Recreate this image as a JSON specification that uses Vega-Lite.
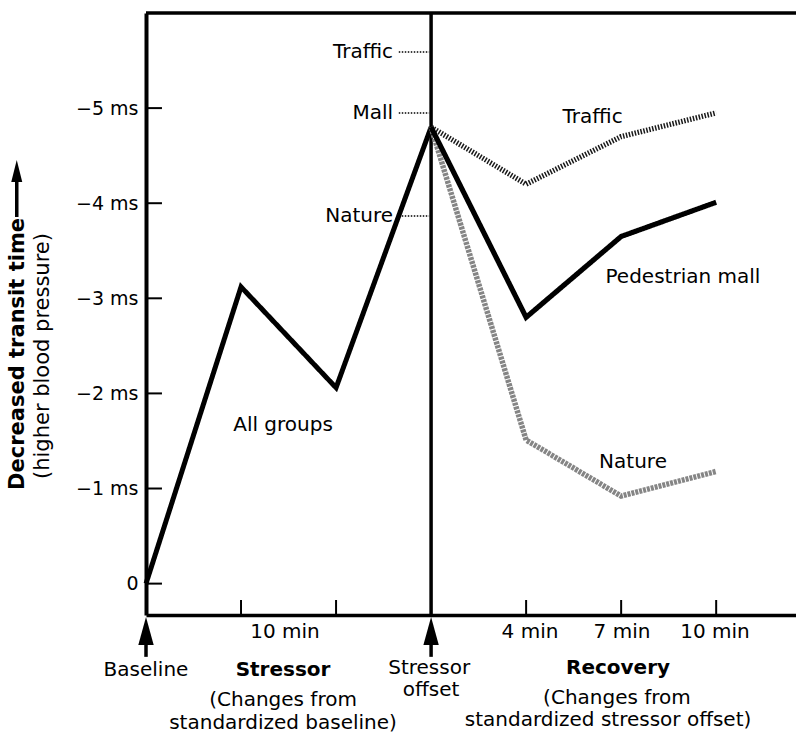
{
  "$schema": "https://vega.github.io/schema/vega-lite/v6.json",
  "width": 650,
  "height": 602,
  "autosize": {"type": "none"},
  "padding": {"left": 146, "top": 13, "right": 0, "bottom": 120},
  "background": "white",
  "config": {
    "view": {"stroke": null},
    "font": "DejaVu Sans",
    "text": {"font": "DejaVu Sans", "color": "black", "fontSize": 20}
  },
  "datasets": {
    "lines": [
      {"series": "All groups", "x": 0, "y": 0},
      {"series": "All groups", "x": 1, "y": -3.12},
      {"series": "All groups", "x": 2, "y": -2.06},
      {"series": "All groups", "x": 3, "y": -4.8},
      {"series": "Traffic", "x": 3, "y": -4.8},
      {"series": "Traffic", "x": 4, "y": -4.2},
      {"series": "Traffic", "x": 5, "y": -4.7},
      {"series": "Traffic", "x": 6, "y": -4.95},
      {"series": "Nature", "x": 3, "y": -4.8},
      {"series": "Nature", "x": 4, "y": -1.51},
      {"series": "Nature", "x": 5, "y": -0.92},
      {"series": "Nature", "x": 6, "y": -1.18},
      {"series": "Pedestrian mall", "x": 3, "y": -4.8},
      {"series": "Pedestrian mall", "x": 4, "y": -2.8},
      {"series": "Pedestrian mall", "x": 5, "y": -3.65},
      {"series": "Pedestrian mall", "x": 6, "y": -4.01}
    ],
    "frame": [
      {"x": 0, "x2": 6.84, "y": -6, "y2": -6},
      {"x": 3, "x2": 3, "y": -6, "y2": 0.33},
      {"x": 0, "x2": 0, "y": 0.5, "y2": 0.77},
      {"x": 3, "x2": 3, "y": 0.5, "y2": 0.77},
      {"x": -1.36, "x2": -1.36, "y": -3.855, "y2": -4.25}
    ],
    "ticks": [
      {"x": 1, "x2": 1, "y": 0.33, "y2": 0.172},
      {"x": 2, "x2": 2, "y": 0.33, "y2": 0.172},
      {"x": 4, "x2": 4, "y": 0.33, "y2": 0.172},
      {"x": 5, "x2": 5, "y": 0.33, "y2": 0.172},
      {"x": 6, "x2": 6, "y": 0.33, "y2": 0.172},
      {"x": 0, "x2": 0.168, "y": 0, "y2": 0},
      {"x": 0, "x2": 0.168, "y": -1, "y2": -1},
      {"x": 0, "x2": 0.168, "y": -2, "y2": -2},
      {"x": 0, "x2": 0.168, "y": -3, "y2": -3},
      {"x": 0, "x2": 0.168, "y": -4, "y2": -4},
      {"x": 0, "x2": 0.168, "y": -5, "y2": -5}
    ],
    "leaders": [
      {"x": 2.66, "x2": 2.98, "y": -5.59, "y2": -5.59},
      {"x": 2.66, "x2": 2.98, "y": -4.948, "y2": -4.948},
      {"x": 2.66, "x2": 2.98, "y": -3.865, "y2": -3.865}
    ],
    "arrows": [
      {"x": 0, "y": 0.499},
      {"x": 3, "y": 0.499}
    ],
    "titleArrow": [
      {"x": -1.36, "y": -4.339}
    ],
    "plotLabels": [
      {"label": "Traffic", "x": 4.7, "y": -4.906},
      {"label": "Pedestrian mall", "x": 5.65, "y": -3.224},
      {"label": "Nature", "x": 5.125, "y": -1.279},
      {"label": "All groups", "x": 1.442, "y": -1.668}
    ],
    "leaderLabels": [
      {"label": "Traffic", "x": 2.6, "y": -5.59},
      {"label": "Mall", "x": 2.6, "y": -4.948},
      {"label": "Nature", "x": 2.6, "y": -3.865}
    ],
    "belowLabels": [
      {"label": "10 min", "x": 1.463, "y": 0.509},
      {"label": "4 min", "x": 4.041, "y": 0.509},
      {"label": "7 min", "x": 5.009, "y": 0.509},
      {"label": "10 min", "x": 5.988, "y": 0.509},
      {"label": "Baseline", "x": 0, "y": 0.909},
      {"label": "(Changes from", "x": 1.442, "y": 1.224},
      {"label": "standardized baseline)", "x": 1.442, "y": 1.466},
      {"label": "Stressor", "x": 2.98, "y": 0.888},
      {"label": "offset", "x": 3.0, "y": 1.119},
      {"label": "(Changes from", "x": 4.956, "y": 1.203},
      {"label": "standardized stressor offset)", "x": 4.862, "y": 1.434}
    ],
    "boldLabels": [
      {"label": "Stressor", "x": 1.442, "y": 0.909},
      {"label": "Recovery", "x": 4.967, "y": 0.888}
    ],
    "yTitle": [
      {"label": "Decreased transit time", "x": -1.35, "y": -2.415}
    ],
    "ySubtitle": [
      {"label": "(higher blood pressure)", "x": -1.084, "y": -2.393}
    ]
  },
  "encoding": {
    "x": {
      "field": "x",
      "type": "quantitative",
      "scale": {"domain": [0, 6.84], "nice": false, "zero": false},
      "axis": {"title": null, "labels": false, "ticks": false, "grid": false, "domainColor": "black", "domainWidth": 3.5}
    },
    "y": {
      "field": "y",
      "type": "quantitative",
      "scale": {"domain": [-6, 0.33], "nice": false, "zero": false, "reverse": true},
      "axis": {
        "title": null,
        "values": [0, -1, -2, -3, -4, -5],
        "ticks": false,
        "grid": false,
        "domainColor": "black",
        "domainWidth": 4,
        "labelPadding": 8,
        "labelFont": "DejaVu Sans",
        "labelFontSize": 19,
        "labelColor": "black",
        "labelExpr": "datum.value === 0 ? '0' : '\u2212' + format(-datum.value, 'd') + ' ms'"
      }
    }
  },
  "layer": [
    {
      "data": {"name": "frame"},
      "mark": {"type": "rule", "color": "black", "strokeWidth": 3.5},
      "encoding": {"x2": {"field": "x2"}, "y2": {"field": "y2"}}
    },
    {
      "data": {"name": "ticks"},
      "mark": {"type": "rule", "color": "black", "strokeWidth": 2},
      "encoding": {"x2": {"field": "x2"}, "y2": {"field": "y2"}}
    },
    {
      "data": {"name": "leaders"},
      "mark": {"type": "rule", "color": "black", "strokeWidth": 1.5, "strokeDash": [1.5, 1.5]},
      "encoding": {"x2": {"field": "x2"}, "y2": {"field": "y2"}}
    },
    {
      "data": {"name": "lines"},
      "mark": {"type": "line", "strokeJoin": "miter", "strokeCap": "butt"},
      "encoding": {
        "detail": {"field": "series"},
        "color": {
          "field": "series",
          "type": "nominal",
          "scale": {"domain": ["All groups", "Pedestrian mall", "Traffic", "Nature"], "range": ["#000000", "#000000", "#1a1a1a", "#858585"]},
          "legend": null
        },
        "strokeDash": {
          "field": "series",
          "type": "nominal",
          "scale": {"domain": ["All groups", "Pedestrian mall", "Traffic", "Nature"], "range": [[1, 0], [1, 0], [1.5, 1.5], [3, 1]]},
          "legend": null
        },
        "strokeWidth": {
          "field": "series",
          "type": "nominal",
          "scale": {"domain": ["All groups", "Pedestrian mall", "Traffic", "Nature"], "range": [5, 5.5, 6, 4.5]},
          "legend": null
        }
      }
    },
    {
      "data": {"name": "arrows"},
      "mark": {"type": "point", "shape": "M0,-1L0.55,1L-0.55,1Z", "size": 784, "filled": true, "color": "black", "opacity": 1, "strokeWidth": 0}
    },
    {
      "data": {"name": "titleArrow"},
      "mark": {"type": "point", "shape": "M0,-1L0.5,1L-0.5,1Z", "size": 484, "filled": true, "color": "black", "opacity": 1, "strokeWidth": 0}
    },
    {
      "data": {"name": "plotLabels"},
      "mark": {"type": "text", "align": "center", "baseline": "middle", "fontSize": 20},
      "encoding": {"text": {"field": "label"}}
    },
    {
      "data": {"name": "leaderLabels"},
      "mark": {"type": "text", "align": "right", "baseline": "middle", "fontSize": 20},
      "encoding": {"text": {"field": "label"}}
    },
    {
      "data": {"name": "belowLabels"},
      "mark": {"type": "text", "align": "center", "baseline": "middle", "fontSize": 20},
      "encoding": {"text": {"field": "label"}}
    },
    {
      "data": {"name": "boldLabels"},
      "mark": {"type": "text", "align": "center", "baseline": "middle", "fontSize": 20, "fontWeight": "bold"},
      "encoding": {"text": {"field": "label"}}
    },
    {
      "data": {"name": "yTitle"},
      "mark": {"type": "text", "align": "center", "baseline": "middle", "fontSize": 21, "fontWeight": "bold", "angle": 270},
      "encoding": {"text": {"field": "label"}}
    },
    {
      "data": {"name": "ySubtitle"},
      "mark": {"type": "text", "align": "center", "baseline": "middle", "fontSize": 21, "angle": 270},
      "encoding": {"text": {"field": "label"}}
    }
  ]
}
